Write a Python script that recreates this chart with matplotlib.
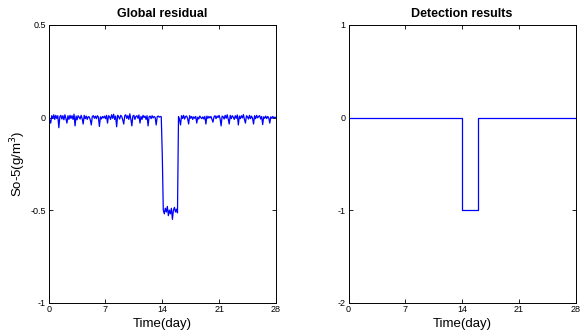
import numpy as np
import matplotlib
matplotlib.use("Agg")
import matplotlib.pyplot as plt

plt.rcParams['font.family'] = ['Liberation Sans', 'DejaVu Sans']

# ---- data ----
samples_per_day = 8
residual_by_day = [
    [0.010, -0.015, -0.030, 0.010, -0.005, 0.015, -0.010, 0.012],
    [-0.005, 0.010, -0.055, 0.005, 0.012, -0.008, 0.010, -0.012],
    [0.015, -0.005, -0.030, 0.010, -0.010, 0.012, -0.005, 0.010],
    [-0.010, 0.018, -0.045, 0.008, -0.012, 0.010, 0.002, -0.008],
    [0.012, -0.005, -0.035, 0.012, -0.006, 0.008, -0.010, 0.005],
    [0.003, -0.012, -0.040, 0.006, 0.010, -0.004, 0.008, -0.006],
    [0.010, 0.002, -0.048, 0.004, -0.008, 0.006, -0.002, 0.008],
    [-0.006, 0.012, -0.030, 0.010, 0.004, -0.010, 0.015, -0.004],
    [0.018, -0.010, 0.008, -0.050, 0.012, 0.004, -0.008, 0.012],
    [0.006, -0.012, -0.035, 0.010, 0.015, -0.005, 0.010, -0.010],
    [0.020, -0.008, -0.045, 0.008, 0.012, -0.010, 0.006, 0.010],
    [-0.004, 0.014, -0.030, 0.006, -0.010, 0.012, 0.000, 0.008],
    [-0.010, 0.010, -0.045, 0.004, 0.008, -0.006, 0.010, -0.002],
    [0.006, 0.000, -0.040, 0.005, 0.008, 0.002, 0.006, 0.004],
    [-0.200, -0.500, -0.520, -0.490, -0.510, -0.480, -0.530, -0.500],
    [-0.520, -0.490, -0.550, -0.500, -0.485, -0.510, -0.495, -0.515],
    [0.005, -0.010, -0.040, 0.010, -0.005, 0.012, -0.008, 0.006],
    [0.008, -0.006, -0.035, 0.010, -0.004, 0.006, -0.010, 0.004],
    [-0.004, 0.006, -0.030, 0.002, -0.008, 0.008, 0.000, -0.006],
    [0.004, -0.008, 0.006, -0.035, 0.008, -0.004, 0.006, -0.002],
    [0.006, -0.010, -0.025, 0.004, 0.010, -0.006, 0.008, 0.000],
    [0.012, -0.006, -0.045, 0.008, 0.004, -0.008, 0.012, -0.004],
    [0.015, -0.008, -0.035, 0.012, -0.006, 0.010, 0.002, -0.010],
    [0.010, -0.004, 0.014, -0.040, 0.008, -0.006, 0.010, -0.002],
    [0.016, -0.010, -0.030, 0.010, 0.004, -0.008, 0.012, -0.006],
    [0.008, -0.004, -0.035, 0.010, -0.006, 0.012, -0.002, 0.006],
    [0.010, -0.008, 0.006, -0.038, 0.004, -0.004, 0.008, -0.006],
    [0.006, -0.002, -0.030, 0.004, -0.004, 0.006, -0.002, 0.002],
]
residual_end = [0.000]

detect_times = [0, 14, 14, 16, 16, 28]
detect_values = [0, 0, -1, -1, 0, 0]

xticks = [0, 7, 14, 21, 28]
xtick_labels = ['0', '7', '14', '21', '28']
yticks_left = [-1, -0.5, 0, 0.5]
ytick_labels_left = ['-1', '-0.5', '0', '0.5']
yticks_right = [-2, -1, 0, 1]
ytick_labels_right = ['-2', '-1', '0', '1']

residual = np.concatenate([np.ravel(residual_by_day), residual_end])
t_res = np.arange(len(residual)) / samples_per_day

# ---- figure ----
fig = plt.figure(figsize=(5.81, 3.33), dpi=100)
ax1 = fig.add_axes([0.0838, 0.091, 0.391, 0.834])
ax2 = fig.add_axes([0.600, 0.091, 0.391, 0.834])

blue = (0, 0, 1)
ax1.plot(t_res, residual, color=blue, lw=0.9)
ax2.plot(detect_times, detect_values, color=blue, lw=0.9)

for ax, yt, ytl, ylim, title in [
    (ax1, yticks_left, ytick_labels_left, (-1, 0.5), 'Global residual'),
    (ax2, yticks_right, ytick_labels_right, (-2, 1), 'Detection results'),
]:
    ax.set_xlim(0, 28)
    ax.set_ylim(*ylim)
    ax.set_xticks(xticks)
    ax.set_xticklabels(xtick_labels)
    ax.set_yticks(yt)
    ax.set_yticklabels(ytl)
    ax.tick_params(direction='in', length=3, width=0.6, labelsize=6.5,
                   top=True, right=True, pad=2)
    for s in ax.spines.values():
        s.set_linewidth(0.7)
    ax.set_title(title, fontsize=9, fontweight='bold', pad=6)
    ax.set_xlabel('Time(day)', fontsize=9.5, labelpad=2.5)

ax1.set_ylabel('So-5(g/m$^3$)', fontsize=9.5, labelpad=2)

fig.savefig('out.png', dpi=100)
